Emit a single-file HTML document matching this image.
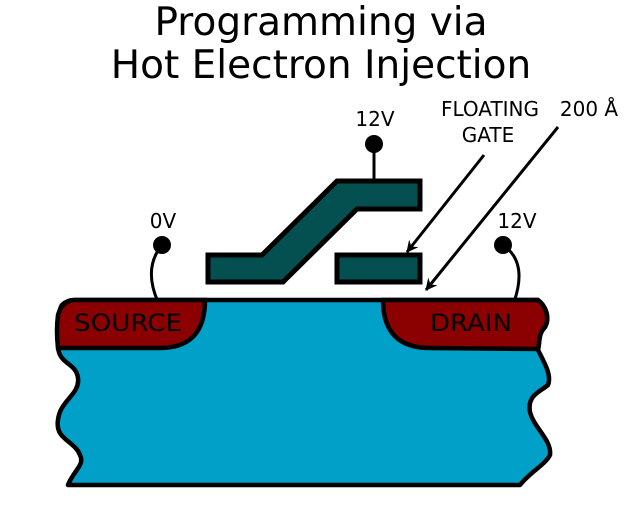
<!DOCTYPE html>
<html><head><style>
html,body{margin:0;padding:0;background:#fff;}
svg{display:block;}
text{font-family:"DejaVu Sans","Liberation Sans",sans-serif;fill:#000;}
</style></head><body>
<svg width="640" height="512" viewBox="0 0 640 512" xmlns="http://www.w3.org/2000/svg">
<defs><marker id="ah" markerWidth="12" markerHeight="12" refX="11" refY="6" orient="auto" markerUnits="userSpaceOnUse"><path d="M0,0 L12,6 L0,12 L4,6 Z" fill="#000"/></marker></defs>
<text x="321" y="35" font-size="39" text-anchor="middle">Programming via</text>
<text x="321" y="78" font-size="39" text-anchor="middle">Hot Electron Injection</text>

<path d="M74,300 L538,300 C546,306 550,318 545,327 C538,334 540,342 538,350 C544,362 552,375 548,385 C540,392 527,395 530,412 C534,428 552,440 550,455 C545,465 530,472 520,485 L68,485 C74,470 85,465 80,455 C74,440 55,440 58,420 C60,400 80,395 78,378 C76,362 58,365 58,345 C57,330 58,310 62,305 C66,301 70,300 74,300 Z" fill="#00a0c8" stroke="#000" stroke-width="4.5" stroke-linejoin="round"/>
<path d="M74,300 L205,300 Q205,348 160,348 L58,348 Q56,330 58,315 Q62,301 74,300 Z" fill="#8b0000" stroke="#000" stroke-width="4.5"/>
<path d="M383,300 L538,300 C546,306 550,318 545,327 C538,334 540,342 538,349 L430,348 Q383,348 383,300 Z" fill="#8b0000" stroke="#000" stroke-width="4.5"/>
<text x="128" y="331" font-size="24" text-anchor="middle" textLength="108" lengthAdjust="spacingAndGlyphs">SOURCE</text>
<text x="471" y="331" font-size="24" text-anchor="middle" textLength="82" lengthAdjust="spacingAndGlyphs">DRAIN</text>

<path d="M208,255 L262,255 L337,181 L420,181 L420,209 L357,209 L283,282 L208,282 Z" fill="#045050" stroke="#000" stroke-width="5"/>
<rect x="337" y="255" width="83" height="27" fill="#045050" stroke="#000" stroke-width="5"/>

<line x1="374" y1="144" x2="374" y2="181" stroke="#000" stroke-width="3"/>
<circle cx="374" cy="144" r="9"/>
<circle cx="162" cy="245" r="9"/>
<path d="M162,245 Q143,268 158,302" fill="none" stroke="#000" stroke-width="3"/>
<circle cx="503" cy="245" r="9"/>
<path d="M503,245 Q528,262 514,302" fill="none" stroke="#000" stroke-width="3"/>

<text x="375" y="126" font-size="20" text-anchor="middle">12V</text>
<text x="163" y="228" font-size="20" text-anchor="middle">0V</text>
<text x="517" y="228" font-size="20" text-anchor="middle">12V</text>
<text x="490" y="116" font-size="20" text-anchor="middle">FLOATING</text>
<text x="488" y="142" font-size="20" text-anchor="middle">GATE</text>
<text x="589" y="116" font-size="20" text-anchor="middle">200 Å</text>

<line x1="484" y1="155" x2="407" y2="252" stroke="#000" stroke-width="3" marker-end="url(#ah)"/>
<line x1="558" y1="127" x2="426" y2="290" stroke="#000" stroke-width="3" marker-end="url(#ah)"/>
</svg>
</body></html>
